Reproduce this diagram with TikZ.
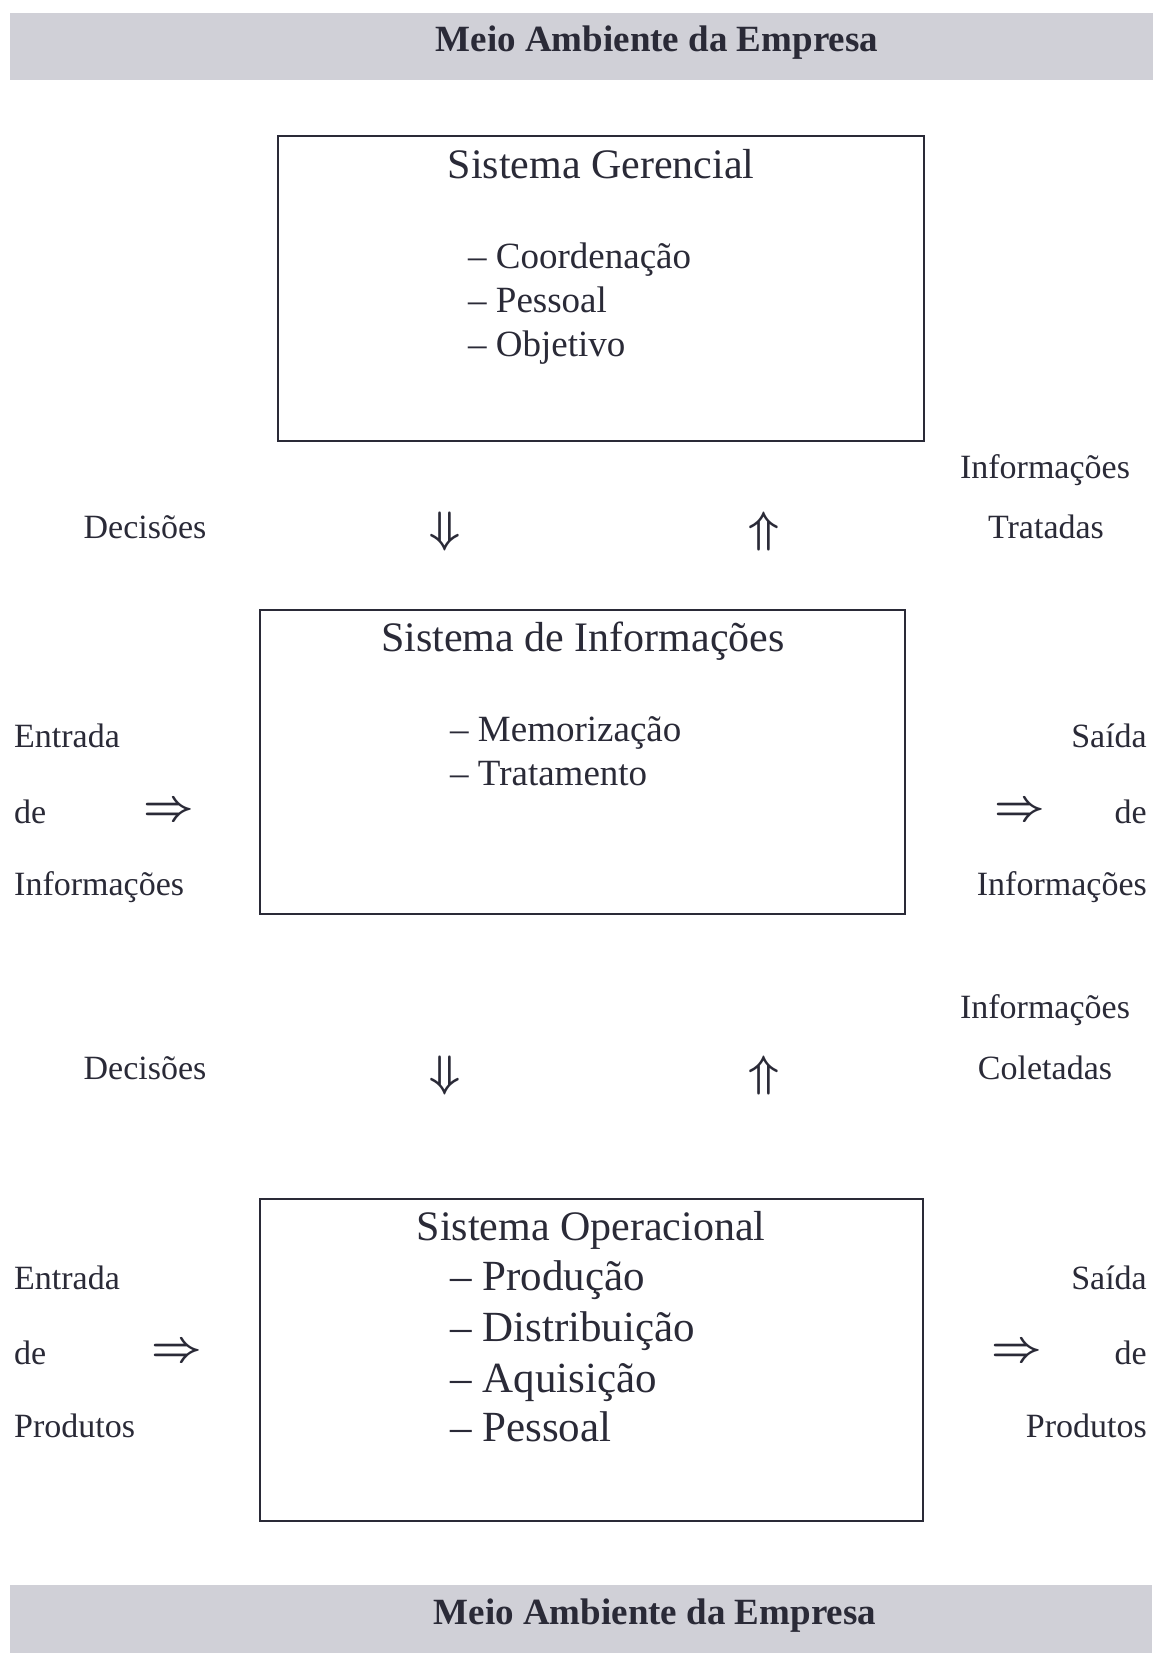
\documentclass[tikz,border=0pt]{standalone}
\usepackage{fontspec}
\usepackage{graphicx}
\setmainfont{Liberation Serif}
\usetikzlibrary{positioning}
\definecolor{banda}{RGB}{208,208,215}
\definecolor{tinta}{RGB}{42,42,55}
\begin{document}
\begin{tikzpicture}[x=1pt,y=-1pt,
    caixa/.style={draw=tinta,line width=1.8pt,inner sep=0pt},
    faixa/.style={font=\bfseries\fontsize{37}{40}\selectfont,text=tinta,inner sep=0pt,yshift=-3pt},
    titulo/.style={font=\fontsize{42}{46}\selectfont,text=tinta,inner sep=0pt,anchor=mid,yshift=-10pt},
    item/.style={font=\fontsize{37}{40}\selectfont,text=tinta,inner sep=0pt,anchor=mid west,yshift=-9pt},
    itemg/.style={font=\fontsize{43}{46}\selectfont,text=tinta,inner sep=0pt,anchor=mid west,yshift=-10pt},
    lado/.style={font=\fontsize{34}{38}\selectfont,text=tinta,inner sep=0pt,yshift=-9pt},
    seta/.style={font=\boldmath,text=tinta,inner sep=0pt}]
    \useasboundingbox (0,0) rectangle (1159,1656);
    \fill[white] (0,0) rectangle (1159,1656);
    % faixas do meio ambiente
    \fill[banda] (10,13) rectangle (1153,80);
    \node[faixa] (ambCima) at (657,40) {Meio Ambiente da Empresa};
    \fill[banda] (10,1585) rectangle (1152,1653);
    \node[faixa] (ambBaixo) at (655,1613) {Meio Ambiente da Empresa};
    % sistema gerencial
    \node[caixa,minimum width=646pt,minimum height=305pt] (gerencial) at (601,288.5) {};
    \node[titulo] (tGer) at (601,166) {Sistema Gerencial};
    \node[item] (coord) at (468,257) {-- Coordenação};
    \node[item] (pesGer) at (468,301) {-- Pessoal};
    \node[item] (objet) at (468,345) {-- Objetivo};
    % entre gerencial e informacoes
    \node[lado,anchor=mid] (decA) at (145,527) {Decisões};
    \node[seta] (descA) at (445,531) {\scalebox{4.4}{$\Downarrow$}};
    \node[seta] (subA) at (764,531) {\scalebox{4.4}{$\Uparrow$}};
    \node[lado,anchor=mid] (infTrat) at (1045,467) {Informações};
    \node[lado,anchor=mid] (trat) at (1046,527) {Tratadas};
    % sistema de informacoes
    \node[caixa,minimum width=645pt,minimum height=304pt] (informacoes) at (582.5,762) {};
    \node[titulo] (tInf) at (583,639) {Sistema de Informações};
    \node[item] (memo) at (450,730) {-- Memorização};
    \node[item] (trata) at (450,774) {-- Tratamento};
    \node[lado,anchor=mid west] (entI) at (14,736) {Entrada};
    \node[lado,anchor=mid west] (deEI) at (14,812) {de};
    \node[lado,anchor=mid west] (infEI) at (14,884) {Informações};
    \node[seta] (setaEI) at (169,812) {\scalebox{4.4}{$\Rightarrow$}};
    \node[lado,anchor=mid east] (saiI) at (1147,736) {Saída};
    \node[lado,anchor=mid east] (deSI) at (1147,812) {de};
    \node[lado,anchor=mid east] (infSI) at (1147,884) {Informações};
    \node[seta] (setaSI) at (1020,812) {\scalebox{4.4}{$\Rightarrow$}};
    % entre informacoes e operacional
    \node[lado,anchor=mid] (decB) at (145,1068) {Decisões};
    \node[seta] (descB) at (445,1075) {\scalebox{4.4}{$\Downarrow$}};
    \node[seta] (subB) at (764,1075) {\scalebox{4.4}{$\Uparrow$}};
    \node[lado,anchor=mid] (infCol) at (1045,1007) {Informações};
    \node[lado,anchor=mid] (colet) at (1045,1068) {Coletadas};
    % sistema operacional
    \node[caixa,minimum width=663pt,minimum height=322pt] (operacional) at (591.5,1360) {};
    \node[titulo] (tOp) at (591,1228) {Sistema Operacional};
    \node[itemg] (prod) at (450,1278) {-- Produção};
    \node[itemg] (distr) at (450,1329) {-- Distribuição};
    \node[itemg] (aquis) at (450,1380) {-- Aquisição};
    \node[itemg] (pesOp) at (450,1429) {-- Pessoal};
    \node[lado,anchor=mid west] (entP) at (14,1278) {Entrada};
    \node[lado,anchor=mid west] (deEP) at (14,1353) {de};
    \node[lado,anchor=mid west] (prodE) at (14,1426) {Produtos};
    \node[seta] (setaEP) at (177,1353) {\scalebox{4.4}{$\Rightarrow$}};
    \node[lado,anchor=mid east] (saiP) at (1147,1278) {Saída};
    \node[lado,anchor=mid east] (deSP) at (1147,1353) {de};
    \node[lado,anchor=mid east] (prodS) at (1147,1426) {Produtos};
    \node[seta] (setaSP) at (1017,1353) {\scalebox{4.4}{$\Rightarrow$}};
\end{tikzpicture}
\end{document}
